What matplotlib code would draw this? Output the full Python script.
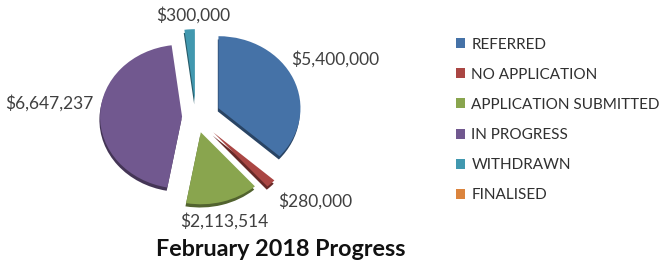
import numpy as np
import matplotlib
matplotlib.use("Agg")
import matplotlib.pyplot as plt
import matplotlib.colors as mcolors

plt.rcParams['font.family'] = ['Lato', 'DejaVu Sans']

categories = ['REFERRED', 'NO APPLICATION', 'APPLICATION SUBMITTED',
              'IN PROGRESS', 'WITHDRAWN', 'FINALISED']
values = [5400000, 280000, 2113514, 6647237, 300000, 0]
value_labels = ['$5,400,000', '$280,000', '$2,113,514', '$6,647,237', '$300,000', '']
title = 'February 2018 Progress'

colors = ['#4572A7', '#AA4643', '#89A54E', '#71588F', '#4198AF', '#DB843D']
explode = [0.30, 0.30, 0.22, 0.17, 0.22, 0.0]
# where each value label sits, in pie-radius units
label_pos = [(1.70, 0.80), (1.45, -1.17), (0.35, -1.45), (-1.79, 0.19), (-0.04, 1.42), None]

W, H = 665, 269
fig = plt.figure(figsize=(W / 100, H / 100), dpi=100)

# pie centre at (196, 117) px from top-left, radius 82 px wide, 72 px tall
rx, ry = 82, 72
cx, cy = 196, 117
xl, yl = 1.5, 1.6
ax = fig.add_axes([(cx - xl * rx) / W, (H - cy - yl * ry) / H, 2 * xl * rx / W, 2 * yl * ry / H])

dark = [tuple(c * 0.6 for c in mcolors.to_rgb(col)) for col in colors]
ax.pie(values, colors=dark, explode=explode, startangle=90, counterclock=False,
       center=(-0.008, -0.045), wedgeprops=dict(linewidth=0))
wedges, _ = ax.pie(values, colors=colors, explode=explode, startangle=90, counterclock=False,
                   wedgeprops=dict(linewidth=0))
ax.set_aspect('auto')
ax.set_xlim(-xl, xl)
ax.set_ylim(-yl, yl)

for lab, pos in zip(value_labels, label_pos):
    if pos is None:
        continue
    ax.text(pos[0], pos[1], lab, ha='center', va='center', fontsize=12.5, color='#404040')

fig.legend(wedges, categories, loc='upper left', bbox_to_anchor=(442 / W, 1 - 24 / H),
           frameon=False, fontsize=11, labelcolor='#303030', handlelength=0.63,
           handleheight=0.63, handletextpad=0.4, labelspacing=1.05)

fig.text(281 / W, 1 - 249 / H, title, ha='center', va='center', fontsize=16.8,
         fontweight='bold', color='#111111')

fig.savefig('out.png', dpi=100)
